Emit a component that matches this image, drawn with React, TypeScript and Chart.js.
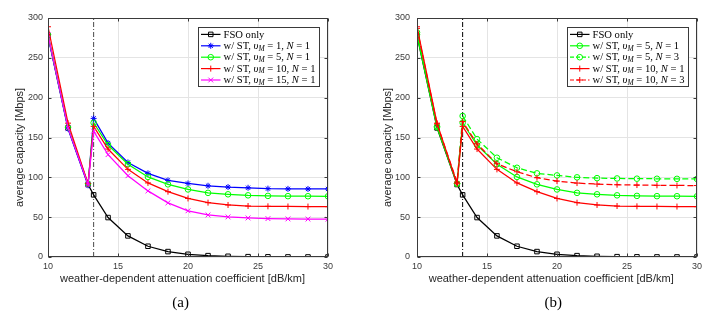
import React, { useEffect, useRef } from "react";
import { Chart, registerables } from "chart.js";

Chart.register(...registerables);

// ---------------- data ----------------
const ATTENUATION = [10, 11.43, 12.86, 13.26, 14.29, 15.71, 17.14, 18.57, 20, 21.43, 22.86, 24.29, 25.71, 27.14, 28.57, 30];
const THRESHOLD = 13.26;
const FSO_ONLY = [278, 162, 91, 78, 49.5, 26.5, 13.5, 6.8, 3.4, 1.7, 0.9, 0.4, 0.2, 0.1, 0.05, 0.02];
const ST_V1_N1 = [277, 161, 90, 174, 143, 118.7, 105, 96.2, 92.3, 89.4, 87.8, 86.9, 85.8, 85.5, 85.4, 85.4];
const ST_V5_N1 = [279, 163, 92, 168.5, 140.5, 116.5, 100.5, 91.2, 84.8, 80.5, 78.7, 77.4, 76.7, 76.4, 76.3, 76.2];
const ST_V10_N1 = [289, 168, 92, 164, 135.5, 110, 93, 82, 73.5, 68.2, 65.3, 64, 63.6, 63.4, 63.3, 63.2];
const ST_V15_N1 = [279, 162, 91, 158, 128.5, 102, 83, 68, 58, 52.8, 50.3, 49, 48.2, 47.8, 47.6, 47.5];
const ST_V5_N3 = [282, 164, 92, 177, 148, 124.6, 112, 105, 102.4, 100, 99, 98.6, 98.3, 98.2, 98.1, 98];
const ST_V10_N3 = [287, 167, 94, 170, 142, 117, 107, 99.5, 95.3, 92.8, 91.5, 90.7, 90.3, 90, 89.8, 89.7];
const X_TICKS = [10, 15, 20, 25, 30];
const Y_TICKS = [0, 50, 100, 150, 200, 250, 300];
const Y_RANGE = [0, 300];
const X_TITLE = "weather-dependent attenuation coefficient [dB/km]";
const Y_TITLE = "average capacity [Mbps]";
const CAPTIONS = ["(a)", "(b)"];

type SeriesDef = { label: string; values: number[]; color: string; marker: string; radius: number; dash?: number[] };

const SERIES_A: SeriesDef[] = [
  { label: "FSO only", values: FSO_ONLY, color: "#000000", marker: "rect", radius: 3.2 },
  { label: "w/ ST, $υ_M$ = 1, $N$ = 1", values: ST_V1_N1, color: "#0000ff", marker: "star", radius: 3 },
  { label: "w/ ST, $υ_M$ = 5, $N$ = 1", values: ST_V5_N1, color: "#00ff00", marker: "circle", radius: 2.8 },
  { label: "w/ ST, $υ_M$ = 10, $N$ = 1", values: ST_V10_N1, color: "#ff0000", marker: "cross", radius: 3 },
  { label: "w/ ST, $υ_M$ = 15, $N$ = 1", values: ST_V15_N1, color: "#ff00ff", marker: "crossRot", radius: 3.4 },
];

const SERIES_B: SeriesDef[] = [
  { label: "FSO only", values: FSO_ONLY, color: "#000000", marker: "rect", radius: 3.2 },
  { label: "w/ ST, $υ_M$ = 5, $N$ = 1", values: ST_V5_N1, color: "#00ff00", marker: "circle", radius: 2.8 },
  { label: "w/ ST, $υ_M$ = 5, $N$ = 3", values: ST_V5_N3, color: "#00ff00", marker: "circle", radius: 2.8, dash: [6, 3] },
  { label: "w/ ST, $υ_M$ = 10, $N$ = 1", values: ST_V10_N1, color: "#ff0000", marker: "cross", radius: 3 },
  { label: "w/ ST, $υ_M$ = 10, $N$ = 3", values: ST_V10_N3, color: "#ff0000", marker: "cross", radius: 3, dash: [6, 3] },
];

// ---------------- drawing helpers ----------------
const SERIF = "'Liberation Serif', 'DejaVu Serif', serif";
const SANS = "'Liberation Sans', Arial, sans-serif";
const LEG_SIZE = 10.6;

function drawMarker(ctx: CanvasRenderingContext2D, style: string, x: number, y: number, r: number) {
  ctx.beginPath();
  const d = r * Math.SQRT1_2;
  if (style === "rect") {
    ctx.rect(x - d, y - d, 2 * d, 2 * d);
  } else if (style === "circle") {
    ctx.arc(x, y, r, 0, Math.PI * 2);
  } else {
    if (style === "cross" || style === "star") {
      ctx.moveTo(x, y - r); ctx.lineTo(x, y + r);
      ctx.moveTo(x - r, y); ctx.lineTo(x + r, y);
    }
    if (style === "crossRot" || style === "star") {
      ctx.moveTo(x - d, y - d); ctx.lineTo(x + d, y + d);
      ctx.moveTo(x - d, y + d); ctx.lineTo(x + d, y - d);
    }
  }
  ctx.stroke();
}

type Run = { text: string; font: string; dy: number };
function richRuns(label: string): Run[] {
  const runs: Run[] = [];
  const parts = label.split("$");
  parts.forEach((p, i) => {
    if (i % 2 === 0) {
      if (p) runs.push({ text: p, font: `${LEG_SIZE}px ${SERIF}`, dy: 0 });
    } else {
      for (let k = 0; k < p.length; k++) {
        if (p[k] === "_" && k + 1 < p.length) {
          runs.push({ text: p[k + 1], font: `italic ${LEG_SIZE * 0.7}px ${SERIF}`, dy: 2.4 });
          k++;
        } else {
          runs.push({ text: p[k], font: `italic ${LEG_SIZE}px ${SERIF}`, dy: 0 });
        }
      }
    }
  });
  return runs;
}
function runsWidth(ctx: CanvasRenderingContext2D, runs: Run[]) {
  let w = 0;
  runs.forEach((r) => { ctx.font = r.font; w += ctx.measureText(r.text).width; });
  return w;
}
function drawRuns(ctx: CanvasRenderingContext2D, runs: Run[], x: number, y: number) {
  let cx = x;
  runs.forEach((r) => {
    ctx.font = r.font;
    ctx.fillText(r.text, cx, y + r.dy);
    cx += ctx.measureText(r.text).width;
  });
}

const framePlugin = {
  id: "matlabFrame",
  afterDatasetsDraw(chart: any) {
    const { ctx, chartArea: ca, scales } = chart;
    ctx.save();
    ctx.strokeStyle = "#3a3a3a";
    ctx.lineWidth = 1;
    ctx.setLineDash([]);
    const L = Math.round(ca.left) + 0.5, R = Math.round(ca.right) - 0.5;
    const T = Math.round(ca.top) + 0.5, B = Math.round(ca.bottom) - 0.5;
    ctx.strokeRect(L, T, R - L, B - T);
    const tl = 3;
    ctx.beginPath();
    X_TICKS.forEach((v) => {
      const px = Math.round(scales.x.getPixelForValue(v)) + 0.5;
      ctx.moveTo(px, B); ctx.lineTo(px, B - tl);
      ctx.moveTo(px, T); ctx.lineTo(px, T + tl);
    });
    Y_TICKS.forEach((v) => {
      const py = Math.round(scales.y.getPixelForValue(v)) + 0.5;
      ctx.moveTo(L, py); ctx.lineTo(L + tl, py);
      ctx.moveTo(R, py); ctx.lineTo(R - tl, py);
    });
    ctx.stroke();
    ctx.restore();
  },
  afterDraw(chart: any, _args: any, opts: any) {
    const { ctx, chartArea: ca } = chart;
    ctx.save();
    // axis titles
    ctx.fillStyle = "#262626";
    ctx.font = `11px ${SANS}`;
    ctx.textAlign = "center";
    ctx.textBaseline = "middle";
    ctx.fillText(X_TITLE, opts.xTitleX, opts.xTitleY);
    ctx.save();
    ctx.translate(opts.yTitleX, opts.yTitleY);
    ctx.rotate(-Math.PI / 2);
    ctx.fillText(Y_TITLE, 0, 0);
    ctx.restore();

    // legend
    const series: SeriesDef[] = opts.series;
    const rowH = 11.4;
    ctx.textAlign = "left";
    ctx.textBaseline = "middle";
    const runsList = series.map((s) => richRuns(s.label));
    const maxW = Math.max(...runsList.map((r) => runsWidth(ctx, r)));
    const lineStart = 3, lineEnd = 22.5, textStart = 25.5;
    const boxW = Math.round(textStart + maxW + 4);
    const boxH = Math.round(series.length * rowH + 2.4);
    const right = Math.round(ca.right) - opts.legendGap;
    const left = Math.round(right - boxW);
    const top = Math.round(ca.top) + opts.legendGap;
    ctx.fillStyle = "#ffffff";
    ctx.fillRect(left + 0.5, top + 0.5, boxW, boxH);
    ctx.strokeStyle = "#3a3a3a";
    ctx.lineWidth = 1;
    ctx.strokeRect(left + 0.5, top + 0.5, boxW, boxH);
    series.forEach((s, i) => {
      const cy = top + 1.7 + rowH * (i + 0.5);
      ctx.strokeStyle = s.color;
      ctx.lineWidth = 1.2;
      ctx.setLineDash(s.dash ? [4, 2] : []);
      ctx.beginPath();
      ctx.moveTo(left + lineStart, cy);
      ctx.lineTo(left + lineEnd, cy);
      ctx.stroke();
      ctx.setLineDash([]);
      ctx.lineWidth = 1;
      drawMarker(ctx, s.marker, left + (lineStart + lineEnd) / 2, cy, s.radius);
      ctx.fillStyle = "#000000";
      drawRuns(ctx, runsList[i], left + textStart, cy + 0.5);
    });
    ctx.restore();
  },
};

function buildConfig(series: SeriesDef[], panel: any): any {
  const datasets: any[] = [
    {
      label: "threshold",
      data: Y_RANGE.map((y) => ({ x: THRESHOLD, y })),
      borderColor: panel.thresholdColor,
      borderWidth: 1,
      borderDash: [5, 2, 1, 2],
      pointRadius: 0,
      order: 100,
    },
  ];
  series.forEach((s, i) => {
    datasets.push({
      label: s.label,
      data: ATTENUATION.map((x, k) => ({ x, y: s.values[k] })),
      borderColor: s.color,
      borderWidth: 1.25,
      borderDash: s.dash || [],
      pointStyle: s.marker,
      pointRadius: s.radius,
      pointBorderWidth: 1,
      pointBorderColor: s.color,
      pointBackgroundColor: "rgba(0,0,0,0)",
      tension: 0,
      fill: false,
      order: 50 - i,
    });
  });
  const tickFont = { family: "Liberation Sans", size: 9 };
  return {
    type: "line",
    data: { datasets },
    options: {
      animation: false,
      responsive: false,
      devicePixelRatio: 1,
      layout: { padding: { left: 0, top: 18, right: panel.padRight, bottom: 20 } },
      plugins: {
        legend: { display: false },
        tooltip: { enabled: false },
        matlabFrame: { series, ...panel.frame },
      },
      scales: {
        x: {
          type: "linear",
          min: 10,
          max: 30,
          afterBuildTicks: (s: any) => { s.ticks = X_TICKS.map((value) => ({ value })); },
          afterFit: (s: any) => { s.height = 34; },
          ticks: { color: "#3a3a3a", font: tickFont, padding: 4, maxRotation: 0, autoSkip: false },
          grid: { color: "#e4e4e4", drawTicks: false, lineWidth: 1 },
          border: { display: false },
        },
        y: {
          type: "linear",
          min: Y_RANGE[0],
          max: Y_RANGE[1],
          afterBuildTicks: (s: any) => { s.ticks = Y_TICKS.map((value) => ({ value })); },
          afterFit: (s: any) => { s.width = panel.yWidth; },
          ticks: { color: "#3a3a3a", font: tickFont, padding: panel.yPad, autoSkip: false },
          grid: { color: "#e4e4e4", drawTicks: false, lineWidth: 1 },
          border: { display: false },
        },
      },
    },
    plugins: [framePlugin],
  };
}

const PANEL_A = {
  padRight: 29,
  yWidth: 48,
  yPad: 5,
  thresholdColor: "#4a4a4a",
  frame: { xTitleX: 182.5, xTitleY: 279, yTitleX: 20, yTitleY: 147.5, legendGap: 9 },
};
const PANEL_B = {
  padRight: 17,
  yWidth: 60,
  yPad: 7,
  thresholdColor: "#000000",
  frame: { xTitleX: 194.2, xTitleY: 279, yTitleX: 31.3, yTitleY: 147.5, legendGap: 9 },
};

export default function App() {
  const refA = useRef<HTMLCanvasElement | null>(null);
  const refB = useRef<HTMLCanvasElement | null>(null);

  useEffect(() => {
    const charts: Chart[] = [];
    if (refA.current) charts.push(new Chart(refA.current, buildConfig(SERIES_A, PANEL_A)));
    if (refB.current) charts.push(new Chart(refB.current, buildConfig(SERIES_B, PANEL_B)));
    return () => charts.forEach((c) => c.destroy());
  }, []);

  const canvasStyle: React.CSSProperties = { position: "absolute", top: 0, width: 357, height: 311 };
  const captionStyle: React.CSSProperties = {
    position: "absolute",
    top: 293,
    width: 40,
    textAlign: "center",
    fontFamily: SERIF,
    fontSize: 15,
    lineHeight: "18px",
    color: "#000",
  };
  return (
    <div style={{ position: "fixed", left: 0, top: 0, width: 714, height: 311, background: "#fff", overflow: "hidden" }}>
      <canvas ref={refA} width={357} height={311} style={{ ...canvasStyle, left: 0 }} />
      <canvas ref={refB} width={357} height={311} style={{ ...canvasStyle, left: 357 }} />
      <div style={{ ...captionStyle, left: 180.7 - 20 }}>{CAPTIONS[0]}</div>
      <div style={{ ...captionStyle, left: 553.3 - 20 }}>{CAPTIONS[1]}</div>
    </div>
  );
}
